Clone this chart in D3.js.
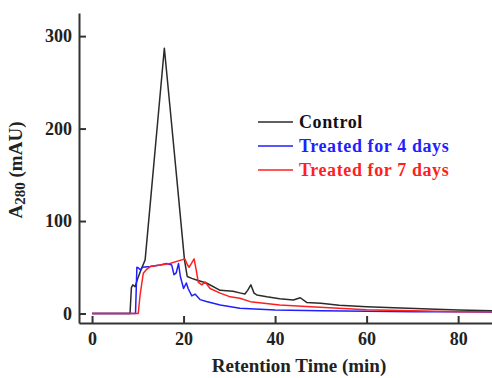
<!DOCTYPE html>
<style>

body {
  margin: 0;
  padding: 0;
  background: #fff;
}

svg text {
  font-family: "Liberation Serif", "Times New Roman", serif;
  font-weight: bold;
}

.axis path,
.axis line {
  stroke: #333;
  stroke-width: 2;
}

</style>
<svg width="492" height="378"></svg>
<script src="https://d3js.org/d3.v7.min.js"></script>
<script>

// retention time (min) and absorbance (mAU)
var controlTime = [0, 8.3, 8.6, 8.9, 9.4, 10.0, 10.6, 11.6, 13, 14.5, 15.8, 17, 18.5, 20.2, 20.8, 21.8, 23, 25, 28, 30.8, 32.5, 33.4, 34.0, 34.7, 35.4, 36, 38.2, 41, 44, 45.5, 46.9, 50, 54, 60, 69, 80, 88];
var controlA280 = [0, 0, 28, 31, 29, 38, 46, 58, 134, 216, 287, 225, 147, 58, 40, 38, 36, 33, 25, 24, 22, 21, 25, 31, 22, 20, 18, 16, 14.6, 17, 12, 11, 9, 7.4, 5.6, 3.8, 3];

var day4Time = [0, 9.5, 9.8, 10.2, 10.6, 11, 12.7, 14.9, 16.3, 17.4, 17.9, 18.4, 18.9, 19.3, 20.0, 20.6, 21.0, 21.8, 22.5, 23.6, 25, 28, 32.3, 40, 50, 60, 70, 80, 88];
var day4A280 = [0, 0, 50, 49, 47, 50, 50.7, 52.5, 54, 52.5, 42, 44, 54, 40, 27, 33, 27, 19, 21, 15, 13, 9.2, 5.6, 3.8, 3, 2.5, 2, 1.8, 1.5];

var day7Time = [0, 10.1, 10.5, 11.2, 12, 12.7, 14.9, 17, 19.6, 20.3, 20.8, 21.2, 21.7, 22.3, 22.8, 23.2, 24, 24.7, 25.8, 28, 30.2, 32.3, 34.6, 41, 49.8, 60, 70, 80, 88];
var day7A280 = [0, 0, 20, 43.5, 48, 50.7, 52.5, 54, 58, 59, 53, 50, 54, 59, 46, 34, 31, 34, 27, 22, 18, 16.5, 12.8, 9.2, 6.7, 4, 3, 2, 1.8];

var seriesNames = ["Control", "Treated for 4 days", "Treated for 7 days"];
var seriesColors = ["#2b2b2b", "#1f1fff", "#ff1f1f"];

var xTicks = [0, 20, 40, 60, 80];
var yTicks = [0, 100, 200, 300];

var series = [
  {name: seriesNames[0], time: controlTime, a280: controlA280},
  {name: seriesNames[1], time: day4Time, a280: day4A280},
  {name: seriesNames[2], time: day7Time, a280: day7A280}
];

var svg = d3.select("svg");

var x = d3.scaleLinear()
    .domain([-2.85, 87.4])
    .range([79, 492]);

var y = d3.scaleLinear()
    .domain([-10.3, 325])
    .range([323, 13]);

var color = d3.scaleOrdinal()
    .domain(seriesNames)
    .range(seriesColors);

var line = d3.line()
    .x(function(d) { return x(d[0]); })
    .y(function(d) { return y(d[1]); });

svg.append("g")
  .selectAll("path")
  .data(series)
  .enter().append("path")
    .attr("fill", "none")
    .attr("stroke", function(d) { return color(d.name); })
    .attr("stroke-width", 1.5)
    .attr("stroke-linejoin", "round")
    .attr("d", function(d) {
      return line(d.time.map(function(t, i) { return [t, d.a280[i]]; }));
    });

svg.append("g")
    .attr("class", "axis")
    .attr("transform", "translate(0," + y.range()[0] + ")")
    .call(d3.axisBottom(x).tickValues(xTicks).tickSizeInner(-7).tickSizeOuter(0).tickPadding(9))
    .call(function(g) {
      g.selectAll("text").attr("font-size", 18).attr("fill", "#222");
    });

svg.append("g")
    .attr("class", "axis")
    .attr("transform", "translate(" + x.range()[0] + ",0)")
    .call(d3.axisLeft(y).tickValues(yTicks).tickSizeInner(-7).tickSizeOuter(0).tickPadding(7))
    .call(function(g) {
      g.selectAll("text").attr("font-size", 18).attr("fill", "#222");
    });

svg.selectAll(".axis").attr("font-family", null);

svg.append("text")
    .attr("x", 299)
    .attr("y", 372)
    .attr("text-anchor", "middle")
    .attr("font-size", 19)
    .attr("fill", "#222")
    .text("Retention Time (min)");

var ylab = svg.append("text")
    .attr("transform", "translate(22,170) rotate(-90)")
    .attr("text-anchor", "middle")
    .attr("font-size", 19)
    .attr("fill", "#222");
ylab.append("tspan").text("A");
ylab.append("tspan").attr("font-size", 15).attr("dy", 3).text("280");
ylab.append("tspan").attr("dy", -3).text(" (mAU)");

var legend = svg.append("g")
  .selectAll("g")
  .data(seriesNames)
  .enter().append("g")
    .attr("transform", function(d, i) {
      return "translate(0," + [122, 146, 170][i] + ")";
    });

legend.append("line")
    .attr("x1", 258)
    .attr("x2", 293)
    .attr("stroke", color)
    .attr("stroke-width", 1.5);

legend.append("text")
    .attr("x", 299)
    .attr("dy", "0.34em")
    .attr("font-size", 18)
    .attr("letter-spacing", 0.6)
    .attr("fill", function(d, i) { return i == 0 ? "#111" : color(d); })
    .text(function(d) { return d; });

</script>
